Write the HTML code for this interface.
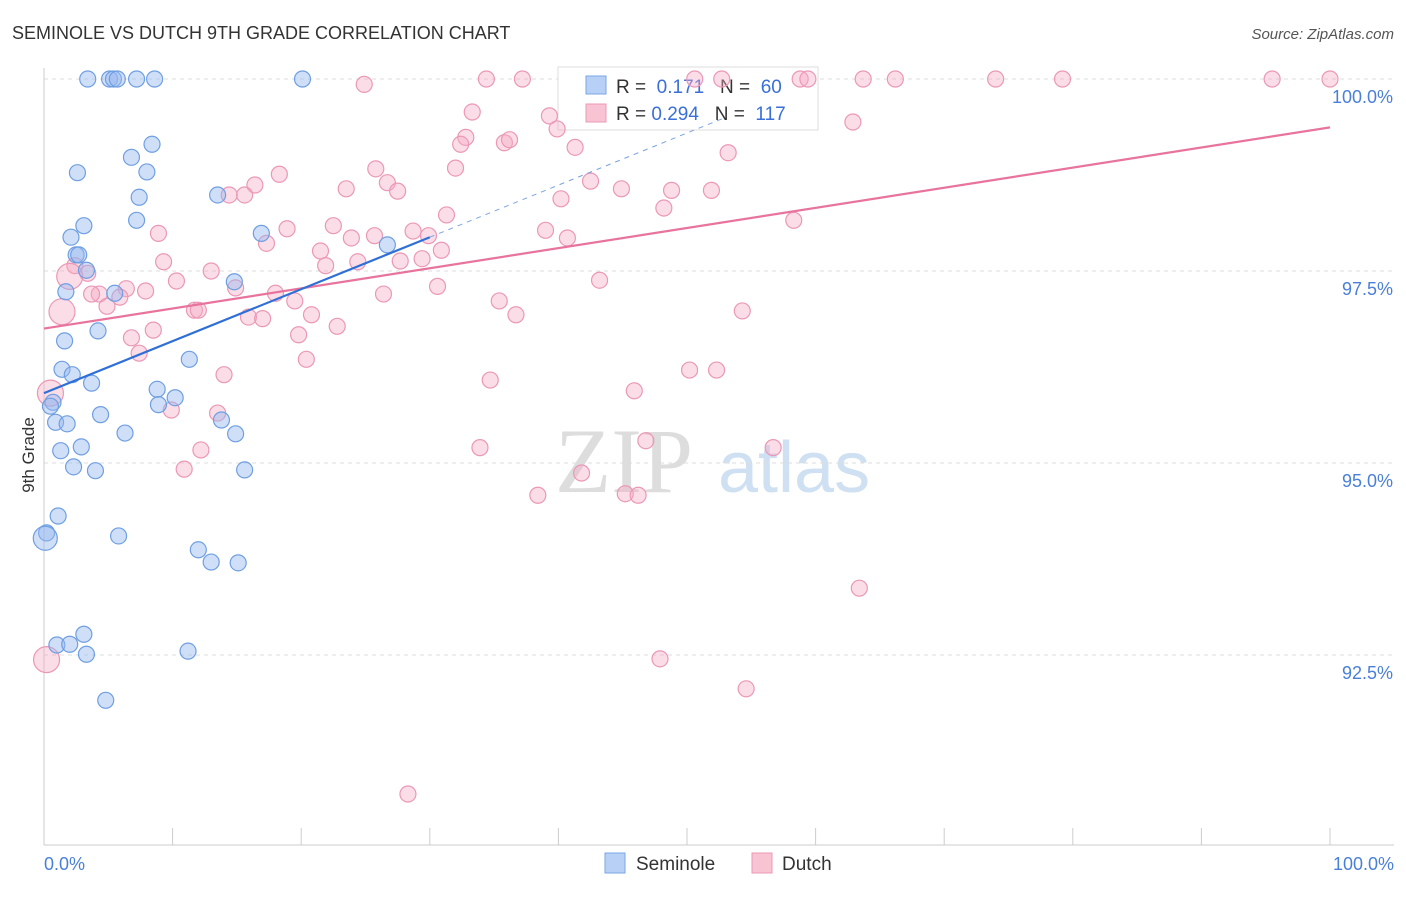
<!DOCTYPE html>
<html><head><meta charset="utf-8"><style>
body{margin:0;background:#fff;font-family:"Liberation Sans",sans-serif;}
</style></head><body>
<svg width="1406" height="892" xmlns="http://www.w3.org/2000/svg" font-family="Liberation Sans, sans-serif">
<text x="12" y="39" font-size="18" fill="#333">SEMINOLE VS DUTCH 9TH GRADE CORRELATION CHART</text>
<text x="1394" y="39" font-size="15" fill="#555" text-anchor="end" font-style="italic">Source: ZipAtlas.com</text>
<g><text x="555" y="492" font-size="92" fill="#ddd" font-family="Liberation Serif, serif">ZIP</text><text x="718" y="492" font-size="72" fill="#cfe0f3">atlas</text></g>
<g id="grid"></g><g id="axes"></g>
<g>
<rect x="558" y="67" width="260" height="63" fill="#fff" stroke="#ddd"/>
<rect x="586" y="76" width="20" height="18" fill="#b8d0f5" stroke="#7aa6e6"/>
<rect x="586" y="104" width="20" height="18" fill="#f8c4d4" stroke="#ec98b6"/>
<text x="616" y="93" font-size="19" fill="#333">R = <tspan fill="#3a6fd8">&#160;0.171</tspan>&#160;&#160;&#160;N = <tspan fill="#3a6fd8">&#160;60</tspan></text>
<text x="616" y="120" font-size="19" fill="#333">R = <tspan fill="#3a6fd8">0.294</tspan>&#160;&#160;&#160;N = <tspan fill="#3a6fd8">&#160;117</tspan></text>
</g>
<g id="pts"></g><g id="lines"></g>
<text transform="translate(34,455) rotate(-90)" font-size="17" fill="#333" text-anchor="middle">9th Grade</text>
<g>
<rect x="605" y="853" width="20" height="20" fill="#b8d0f5" stroke="#7aa6e6"/>
<text x="636" y="870" font-size="19" fill="#333">Seminole</text>
<rect x="752" y="853" width="20" height="20" fill="#f8c4d4" stroke="#ec98b6"/>
<text x="782" y="870" font-size="19" fill="#333">Dutch</text>
</g>
</svg>
<script>
const blueX=[3.4,5.1,5.4,5.7,7.2,8.6,20.1,8.4,6.8,2.6,8.0,7.4,13.5,7.2,3.1,2.1,16.9,26.7,2.5,2.7,3.3,14.8,1.7,5.5,4.2,1.6,11.3,1.4,2.2,3.7,8.8,0.7,8.9,10.2,0.5,4.4,13.8,0.9,1.8,6.3,14.9,2.9,1.3,2.3,4.0,15.6,1.1,0.2,5.8,12.0,13.0,15.1,3.1,1.0,2.0,3.3,11.2,4.8];
const blueY=[100,100,100,100,100,100,100,99.15,98.98,98.78,98.79,98.46,98.49,98.16,98.09,97.94,97.99,97.84,97.71,97.71,97.51,97.36,97.23,97.21,96.72,96.59,96.35,96.22,96.15,96.04,95.96,95.79,95.76,95.85,95.74,95.63,95.56,95.53,95.51,95.39,95.38,95.21,95.16,94.95,94.90,94.91,94.31,94.09,94.05,93.87,93.71,93.70,92.77,92.63,92.64,92.51,92.55,91.91];
const pinkX=[24.9,34.4,37.2,50.6,52.7,58.8,59.4,63.7,66.2,74.0,79.2,95.5,100,33.3,39.3,39.9,32.8,32.4,35.8,36.2,41.3,62.9,53.2,25.8,18.3,32.0,26.7,27.5,23.5,16.4,15.6,14.4,42.5,44.9,48.8,51.9,40.2,48.2,31.3,22.5,18.9,8.9,39.0,40.7,23.9,25.7,28.7,29.9,58.3,17.3,21.5,30.9,9.3,24.4,27.7,29.4,21.9,13.0,2.4,3.4,10.3,43.2,30.6,14.9,7.9,6.4,4.3,3.7,5.9,18.0,26.4,19.5,35.4,4.9,11.7,12.0,20.8,36.7,54.3,15.9,17.0,22.8,8.5,19.8,6.8,7.4,20.4,14.0,34.7,50.2,52.3,45.9,9.9,13.5,33.9,46.8,12.2,10.9,41.8,38.4,45.2,46.2,63.4,47.9,54.6,28.3,56.7];
const pinkY=[99.93,100,100,100,100,100,100,100,100,100,100,100,100,99.57,99.52,99.35,99.24,99.15,99.17,99.21,99.11,99.44,99.04,98.83,98.76,98.84,98.65,98.54,98.57,98.62,98.49,98.49,98.67,98.57,98.55,98.55,98.44,98.32,98.23,98.09,98.05,97.99,98.03,97.93,97.93,97.96,98.02,97.96,98.16,97.86,97.76,97.77,97.62,97.62,97.63,97.66,97.57,97.5,97.57,97.47,97.37,97.38,97.30,97.28,97.24,97.27,97.20,97.20,97.16,97.21,97.20,97.11,97.11,97.04,96.99,96.99,96.93,96.93,96.98,96.90,96.88,96.78,96.73,96.67,96.63,96.43,96.35,96.15,96.08,96.21,96.21,95.94,95.69,95.65,95.20,95.29,95.17,94.92,94.87,94.58,94.60,94.58,93.37,92.45,92.06,90.69,95.20];
const bigBlueX=[0.1], bigBlueY=[94.02];
const bigPinkX=[0.2,0.5,1.4,2.0], bigPinkY=[92.44,95.91,96.97,97.43];
const yTicks=[100,97.5,95,92.5], yTickLabels=["100.0%","97.5%","95.0%","92.5%"];
const blueTrend=[[0,95.91],[30,97.94]], blueDash=[[30,97.94],[53,99.5]];
const pinkTrend=[[0,96.75],[100,99.37]];
const NS="http://www.w3.org/2000/svg";
const X=v=>44+v*12.86, Y=v=>79+(100-v)*76.8;
function mk(t,a,p){const e=document.createElementNS(NS,t);for(const k in a)e.setAttribute(k,a[k]);p.appendChild(e);return e;}
const grid=document.getElementById('grid'),axes=document.getElementById('axes'),pts=document.getElementById('pts'),lines=document.getElementById('lines');
yTicks.forEach((t,i)=>{const l=mk('line',{x1:44,x2:1394,y1:Y(t),y2:Y(t),stroke:'#ddd','stroke-dasharray':'4,4'},grid);


const tx=mk('text',{x:1393,y:Y(t)+24,'font-size':18,fill:'#4a7fd8','text-anchor':'end'},axes);tx.textContent=yTickLabels[i];

});
const ax=mk('line',{x1:44,x2:1394,y1:845,y2:845,stroke:'#ccc'},axes);


const ay=mk('line',{x1:44,x2:44,y1:68,y2:845,stroke:'#ccc'},axes);


for(let i=0;i<=10;i++){const tk=mk('line',{x1:X(i*10),x2:X(i*10),y1:828,y2:845,stroke:'#ccc'},axes);

}
[["0.0%",44,"start"],["100.0%",1394,"end"]].forEach(a=>{const t=mk('text',{x:a[1],y:870,'font-size':18,fill:'#4a7fd8','text-anchor':a[2]},axes);t.textContent=a[0];

});
function dots(xs,ys,r,fill,stroke,name){xs.forEach((x,i)=>{const c=mk('circle',{cx:X(x),cy:Y(ys[i]),r:r,fill:fill,stroke:stroke,'stroke-width':1.2},pts);

});}
dots(pinkX,pinkY,8,'rgba(246,170,196,0.4)','#eb98b6','dutch-point');
dots(bigPinkX,bigPinkY,13,'rgba(246,170,196,0.4)','#eb98b6','dutch-point');
dots(blueX,blueY,8,'rgba(150,185,240,0.45)','#6f9fe2','seminole-point');
dots(bigBlueX,bigBlueY,12,'rgba(150,185,240,0.45)','#6f9fe2','seminole-point');
function ln(p,stroke,w,dash,name){const l=mk('line',{x1:X(p[0][0]),y1:Y(p[0][1]),x2:X(p[1][0]),y2:Y(p[1][1]),stroke:stroke,'stroke-width':w},lines);if(dash)l.setAttribute('stroke-dasharray',dash);

}
ln(pinkTrend,'#e8739c',2.2,null,'dutch-trend-line');
ln(blueTrend,'#2f6fd6',2.2,null,'seminole-trend-line');
ln(blueDash,'#7aa3e0',1,'5,5','seminole-trend-extension');
</script>
</body></html>
